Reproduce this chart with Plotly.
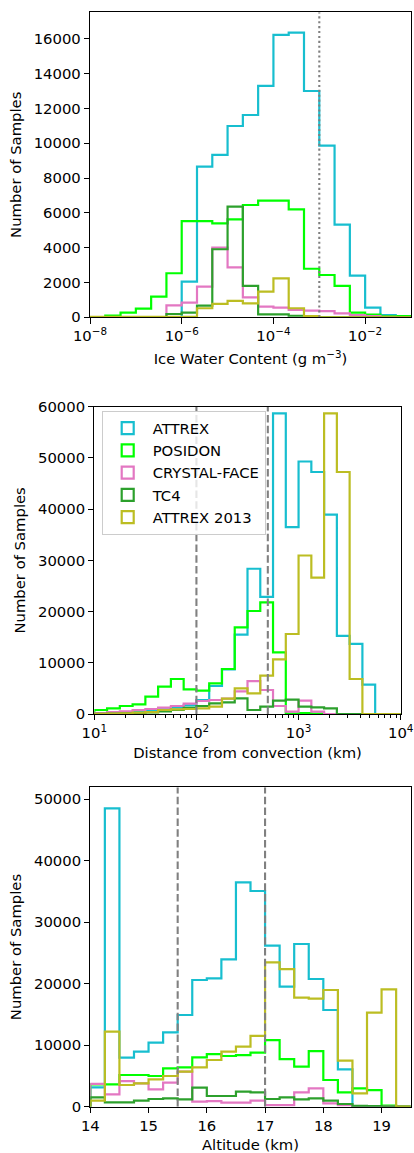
import numpy as np
import plotly.graph_objects as go

W, H = 414, 1153

# ---------------- data ----------------
names = ["ATTREX", "POSIDON", "CRYSTAL-FACE", "TC4", "ATTREX 2013"]
colors = ["#17becf", "#00ff00", "#e377c2", "#2ca02c", "#bcbd22"]

# Panel 1: Ice Water Content (g m^-3), 1/3-decade bins 1e-8 .. 1e-1
iwc_edges = np.logspace(-8, -1, 22)
iwc_attrex = [0, 0, 0, 0, 0, 0, 2050, 8650, 9330, 10990, 11620, 13290, 16220, 16350,
              13000, 9860, 5320, 2390, 560, 130, 40]
iwc_posidon = [0, 100, 270, 500, 1190, 2530, 5530, 5530, 5400, 5630, 6450, 6700, 6700,
               6200, 2790, 2430, 1800, 270, 150, 75, 75]
iwc_crystal = [0, 0, 0, 0, 0, 690, 840, 1760, 4000, 2870, 1150, 610, 560, 420, 380, 360,
               230, 130, 75, 20, 0]
iwc_tc4 = [0, 0, 0, 0, 0, 190, 270, 670, 3910, 6360, 1800, 170, 170, 90, 0, 0, 0, 0, 0, 0, 0]
iwc_attrex13 = [20, 20, 20, 20, 20, 20, 20, 520, 770, 940, 800, 1470, 2240, 520, 75, 0, 0,
                0, 0, 0, 0]
iwc_vline = 1e-3

# Panel 2: Distance from convection (km), 1/8-decade bins 10 .. 1e4
dist_edges = np.logspace(1, 4, 25)
dist_attrex = [100, 200, 300, 400, 600, 900, 1300, 1700, 2730, 5470, 8700, 15500, 28360,
               22850, 58700, 36470, 49300, 47250, 38940, 15250, 13700, 5730, 0, 0]
dist_posidon = [780, 1100, 1560, 1890, 3380, 5340, 6830, 4820, 4560, 5990, 8790, 16900,
                20110, 21800, 12040, 100, 200, 100, 0, 0, 0, 0, 0, 0]
dist_crystal = [200, 350, 500, 780, 980, 1240, 1560, 2020, 2540, 2730, 3000, 4400, 6400,
                4690, 1560, 455, 2600, 455, 0, 0, 0, 0, 0, 0]
dist_tc4 = [50, 80, 120, 200, 300, 500, 800, 1200, 1560, 2080, 2280, 3060, 780, 1430, 2600,
            2800, 1430, 1300, 1100, 0, 0, 0, 0, 0]
dist_attrex13 = [50, 100, 150, 250, 350, 780, 900, 980, 1100, 1430, 3000, 5010, 4030, 7480,
                 10670, 15620, 30950, 26610, 58700, 47250, 6830, 0, 0, 0]
dist_vlines = [100, 500]

# Panel 3: Altitude (km), 0.25 km bins 14 .. 19.5
alt_edges = np.arange(14.0, 19.5001, 0.25)
alt_attrex = [3140, 48500, 7970, 8940, 10410, 12090, 14910, 20600, 20870, 23960, 36480,
              35070, 26180, 19510, 26450, 20760, 15720, 6070, 0, 0, 0, 0]
alt_posidon = [3630, 3630, 5150, 5150, 4990, 6230, 6400, 8020, 8560, 8240, 8400, 8780,
               10840, 7750, 6500, 9050, 4340, 2330, 2980, 2710, 160, 0]
alt_crystal = [3700, 2010, 4170, 3800, 2820, 3900, 5700, 820, 920, 650, 650, 980, 270, 270,
               2330, 2980, 550, 270, 0, 0, 0, 0]
alt_tc4 = [1500, 700, 700, 980, 1250, 1360, 1190, 3090, 1740, 1740, 2440, 2330, 1250, 1520,
           1190, 1360, 980, 440, 150, 100, 0, 0]
alt_attrex13 = [1000, 12200, 3530, 3800, 4450, 4990, 5700, 6400, 7590, 8940, 9760, 11500,
                23470, 22380, 17720, 17560, 18970, 7480, 2170, 15290, 19080, 0]
alt_vlines = [15.5, 17.0]

FONT = "DejaVu Sans"
FS = 14.8
LW = 2.2

# plot-area margins (px)
ML, MR, MT, MB = 90, 3, 12, 46
AW, AH = W - ML - MR, H - MT - MB


def fx(px):
    return (px - ML) / AW


def fy(py):
    return (H - MB - py) / AH


def step_xy(edges, counts):
    edges = list(edges)
    counts = list(counts)
    x = [edges[0]] + edges[:-1] + [edges[-1], edges[-1]]
    y = [0] + counts + [counts[-1], 0]
    return x, y


fig = go.Figure()

panels = [
    (iwc_edges, [iwc_attrex, iwc_posidon, iwc_crystal, iwc_tc4, iwc_attrex13], "x", "y"),
    (dist_edges, [dist_attrex, dist_posidon, dist_crystal, dist_tc4, dist_attrex13], "x2", "y2"),
    (alt_edges, [alt_attrex, alt_posidon, alt_crystal, alt_tc4, alt_attrex13], "x3", "y3"),
]

for edges, series, xa, ya in panels:
    for name, col, cnt in zip(names, colors, series):
        x, y = step_xy(edges, cnt)
        fig.add_trace(go.Scatter(x=x, y=y, mode="lines", line=dict(color=col, width=LW, shape="hv"),
                                 xaxis=xa, yaxis=ya, showlegend=False, name=name,
                                 hoverinfo="skip"))

YMAX = [17520, 60000, 51930]

# vertical reference lines
fig.add_trace(go.Scatter(x=[iwc_vline, iwc_vline], y=[0, YMAX[0]], mode="lines",
                         line=dict(color="#808080", width=2.1, dash="2.1px,2.8px"),
                         xaxis="x", yaxis="y", showlegend=False, hoverinfo="skip"))
for v in dist_vlines:
    fig.add_trace(go.Scatter(x=[v, v], y=[0, YMAX[1]], mode="lines",
                             line=dict(color="#808080", width=2.1, dash="7.5px,3.3px"),
                             xaxis="x2", yaxis="y2", showlegend=False, hoverinfo="skip"))
for v in alt_vlines:
    fig.add_trace(go.Scatter(x=[v, v], y=[0, YMAX[2]], mode="lines",
                             line=dict(color="#808080", width=2.1, dash="7.5px,3.3px"),
                             xaxis="x3", yaxis="y3", showlegend=False, hoverinfo="skip"))

# legend entries (outlined boxes, as in a step histogram legend)
for name, col in zip(names, colors):
    fig.add_trace(go.Bar(x=[None], y=[None], name=name, xaxis="x2", yaxis="y2",
                         marker=dict(color="rgba(255,255,255,0)", line=dict(color=col, width=2.2)),
                         showlegend=True, legendgroup=name))

axis_common = dict(showline=True, mirror=True, linecolor="black", linewidth=1.1,
                   ticks="outside", ticklen=5.2, tickwidth=1.1, tickcolor="black",
                   showgrid=False, zeroline=False, automargin=False,
                   tickfont=dict(family=FONT, size=FS, color="black"))


def sup(e):
    return "10<sup>" + str(e).replace("-", "\u2212") + "</sup>"


minor_vals = [m * 10 ** k for k in (1, 2, 3) for m in range(2, 10)]

fig.update_layout(
    width=W, height=H,
    margin=dict(l=ML, r=MR, t=MT, b=MB, pad=0),
    paper_bgcolor="white", plot_bgcolor="white",
    font=dict(family=FONT, size=FS, color="black"),
    barmode="overlay",
    xaxis=dict(axis_common, type="log", range=[-8, -1], domain=[fx(90), fx(411)], anchor="y",
               tickmode="array", tickvals=[1e-8, 1e-6, 1e-4, 1e-2],
               ticktext=[sup(-8), sup(-6), sup(-4), sup(-2)],
               title=dict(text="Ice Water Content (g m<sup>\u22123</sup>)",
                          font=dict(family=FONT, size=FS), standoff=10)),
    yaxis=dict(axis_common, range=[0, YMAX[0]], domain=[fy(317.3), fy(12.3)], anchor="x",
               dtick=2000, tickformat="d",
               title=dict(text="Number of Samples", font=dict(family=FONT, size=FS), standoff=8)),
    xaxis2=dict(axis_common, type="log", range=[1, 4], domain=[fx(94.3), fx(400.7)], anchor="y2",
                tickmode="array", tickvals=[10, 100, 1000, 10000],
                ticktext=[sup(1), sup(2), sup(3), sup(4)],
                minor=dict(tickmode="array", tickvals=minor_vals, ticks="outside", ticklen=3,
                           tickwidth=0.8, tickcolor="black"),
                title=dict(text="Distance from convection (km)",
                           font=dict(family=FONT, size=FS), standoff=7)),
    yaxis2=dict(axis_common, range=[0, YMAX[1]], domain=[fy(714), fy(406.7)], anchor="x2",
                dtick=10000, tickformat="d",
                title=dict(text="Number of Samples", font=dict(family=FONT, size=FS), standoff=8)),
    xaxis3=dict(axis_common, range=[14, 19.5], domain=[fx(90.3), fx(410.7)], anchor="y3",
                dtick=1, tick0=14,
                title=dict(text="Altitude (km)", font=dict(family=FONT, size=FS), standoff=8)),
    yaxis3=dict(axis_common, range=[0, YMAX[2]], domain=[fy(1106.7), fy(787.3)], anchor="x3",
                dtick=10000, tickformat="d",
                title=dict(text="Number of Samples", font=dict(family=FONT, size=FS), standoff=8)),
    legend=dict(x=fx(101.7), y=fy(411.0), xanchor="left", yanchor="top",
                bgcolor="rgba(255,255,255,0.8)", bordercolor="#cccccc", borderwidth=1,
                font=dict(family=FONT, size=FS, color="black"), tracegroupgap=3,
                itemwidth=40, traceorder="normal"),
    showlegend=True,
)

fig.write_html("out.html")
